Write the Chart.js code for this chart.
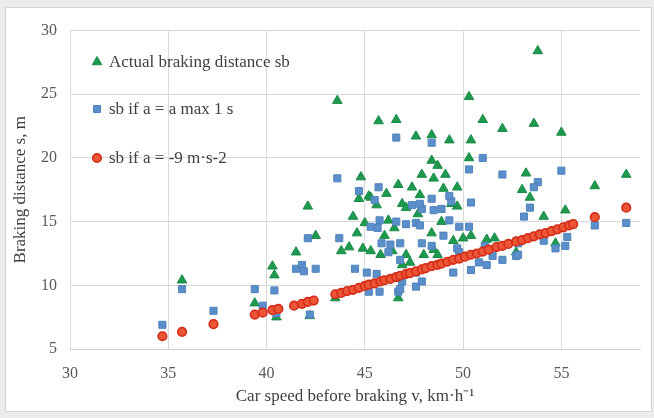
<!DOCTYPE html>
<html><head><meta charset="utf-8">
<script src="https://cdn.jsdelivr.net/npm/chart.js@4.4.1/dist/chart.umd.min.js"></script>
<style>
html,body{margin:0;padding:0;background:#ececec;width:654px;height:418px;overflow:hidden}
#frame{position:absolute;left:5px;top:7px;width:645px;height:403px;background:#fff;border:1px solid #d4d4d4;}
canvas{display:block}
</style></head><body>
<div id="frame"><canvas id="c" width="645" height="403"></canvas></div>
<script>
// ---- data ----
const xTickValues = [30, 35, 40, 45, 50, 55];
const yTickValues = [5, 10, 15, 20, 25, 30];
const seriesNames = ['Actual braking distance sb', 'sb if a = a max 1 s', 'sb if a = -9 m\u00b7s-2'];

const actualSpeed = [35.7,39.4,40.3,40.4,40.5,41.5,42.1,42.5,42.2,43.6,43.5,43.8,44.6,44.8,45.7,46.6,47.6,48.4,49.3,50.4,50.3,51.0,52.0,53.6,55.0,53.8,50.3,48.4,48.7,53.2,53.0,53.4,56.7,58.3,54.1,55.2,46.7,47.9,48.5,49.1,49.7,46.7,47.4,49.0,45.2,46.1,47.8,45.6,46.9,49.7,44.7,45.3,47.1,44.9,45.3,45.8,46.2,46.5,47.1,46.9,47.3,46.4,49.4,48.4,48.0,49.5,50.0,50.4,51.2,51.6,48.5,48.7,52.7,54.7,44.2,45.0,46.0,47.7,44.4,48.9];
const actualDist  = [10.4,8.6,11.5,10.8,7.5,12.6,16.2,13.9,7.6,24.5,9.0,12.7,14.1,18.5,22.9,23.0,21.7,21.8,21.4,21.4,24.8,23.0,22.3,22.7,22.0,28.4,20.0,19.8,19.4,18.8,17.5,16.9,17.8,18.7,15.4,15.9,9.0,18.7,18.4,18.7,17.7,17.9,17.7,17.6,17.0,17.2,17.1,16.3,16.4,16.2,16.8,16.9,16.1,12.9,12.7,12.4,15.1,14.5,12.4,11.6,11.8,12.7,16.4,14.1,12.4,13.5,13.7,13.9,13.6,13.7,12.8,12.4,12.6,13.3,13.0,14.9,13.9,15.6,15.4,15.0];

const amaxSpeed = [34.7,35.7,37.3,39.4,39.8,40.4,40.5,41.5,41.8,41.9,42.1,42.5,42.2,43.6,46.6,48.4,51.0,50.3,52.0,55.0,53.8,53.6,44.7,45.7,45.5,47.9,48.5,49.4,50.4,47.4,48.4,48.9,49.3,47.8,49.3,49.8,50.3,47.6,47.8,49.0,47.9,48.4,49.7,49.8,51.1,50.8,51.2,52.0,52.7,47.9,53.1,52.8,53.4,52.8,54.1,54.7,55.2,55.3,56.7,58.3,45.2,46.7,43.7,45.3,45.75,45.65,46.6,47.1,45.85,46.3,46.8,46.2,46.8,44.5,45.1,45.6,46.6,46.9,47.6,45.75,46.8,47.6,50.4,49.5,51.5];
const amaxDist  = [6.9,9.7,8.0,9.7,8.4,9.6,7.8,11.3,11.6,11.1,13.7,11.3,7.7,18.4,21.6,21.2,20.0,19.1,18.7,19.0,18.1,17.7,17.4,17.7,16.7,16.0,15.9,16.6,16.5,16.3,16.8,16.0,17.0,16.4,15.1,14.6,14.6,14.9,14.7,13.9,13.3,13.1,12.9,12.6,13.1,11.8,11.6,12.0,12.3,10.3,15.4,13.3,16.1,12.4,13.5,12.9,13.1,13.8,14.7,14.9,9.5,9.5,13.7,14.6,15.1,14.5,15.0,14.8,13.3,13.2,13.3,12.6,12.0,11.3,11.0,10.9,10.6,10.3,11.0,9.5,9.7,9.9,11.2,11.0,12.3];

const sb9Speed = [34.7,35.7,37.3,39.4,39.8,40.3,40.6,41.4,41.8,42.1,42.4,43.5,43.8,44.1,44.4,44.7,45.0,45.2,45.5,45.8,46.0,46.3,46.6,46.8,47.1,47.3,47.6,47.9,48.1,48.4,48.7,48.9,49.2,49.5,49.8,50.1,50.4,50.7,51.0,51.3,51.7,52.0,52.3,52.7,53.0,53.3,53.6,53.9,54.2,54.5,54.8,55.1,55.4,55.6,56.7,58.3];
const sb9Dist  = [6.0,6.35,6.95,7.7,7.85,8.05,8.15,8.4,8.55,8.7,8.8,9.3,9.4,9.55,9.65,9.8,9.95,10.05,10.15,10.3,10.4,10.5,10.65,10.75,10.9,10.95,11.1,11.25,11.35,11.5,11.6,11.7,11.85,12.0,12.1,12.25,12.4,12.5,12.65,12.8,13.0,13.1,13.25,13.45,13.55,13.7,13.85,14.0,14.1,14.25,14.4,14.55,14.7,14.8,15.35,16.1];

const xTitle = 'Car speed before braking v, km\u00b7h\u207b\u00b9';
const yTitle = 'Braking distance s, m';

// ---- chart ----
const pair = (xs, ys) => xs.map((x, i) => ({x: x, y: ys[i]}));
const FONT = 'Liberation Serif, "Times New Roman", serif';
const styles = [
  {pointStyle:'triangle', radius:5.5, bg:'#1e9a4f', border:'#188a45', bw:1},
  {pointStyle:'rect', radius:5, bg:'#5b8fca', border:'#4f82bd', bw:1},
  {pointStyle:'circle', radius:4.3, bg:'#ec5535', border:'#d42c18', bw:1.6}
];

const legendPlugin = {
  id: 'insideLegend',
  afterDatasetsDraw(chart) {
    const ctx = chart.ctx;
    const rows = [54, 101, 150];
    ctx.save();
    ctx.font = '17px ' + FONT;
    ctx.textBaseline = 'middle';
    ctx.textAlign = 'left';
    seriesNames.forEach((name, i) => {
      const s = styles[i];
      ctx.fillStyle = s.bg; ctx.strokeStyle = s.border; ctx.lineWidth = s.bw;
      Chart.helpers.drawPoint(ctx, {pointStyle: s.pointStyle, radius: s.radius, rotation: 0, borderWidth: s.bw}, 91, rows[i]);
      ctx.fillStyle = '#404040';
      ctx.fillText(name, 103, rows[i] + 1);
    });
    ctx.restore();
  }
};

const mk = (label, data, s, order) => ({
  label, data, order, showLine: false,
  pointStyle: s.pointStyle, pointRadius: s.radius, pointHoverRadius: s.radius,
  backgroundColor: s.bg, borderColor: s.border, pointBorderWidth: s.bw, borderWidth: s.bw
});

new Chart(document.getElementById('c'), {
  type: 'scatter',
  data: {
    datasets: [
      mk(seriesNames[0], pair(actualSpeed, actualDist), styles[0], 3),
      mk(seriesNames[1], pair(amaxSpeed, amaxDist), styles[1], 2),
      mk(seriesNames[2], pair(sb9Speed, sb9Dist), styles[2], 1)
    ]
  },
  options: {
    responsive: false, animation: false,
    layout: {padding: {left: 0, top: 14, right: 11, bottom: 0}},
    plugins: {legend: {display: false}, tooltip: {enabled: false}},
    scales: {
      x: {
        type: 'linear', min: 30, max: 59,
        afterBuildTicks: s => { s.ticks = xTickValues.map(v => ({value: v})); },
        afterFit: s => { s.height = 62; },
        grid: {color: '#d9d9d9', drawTicks: false},
        border: {color: '#d0d0d0'},
        ticks: {padding: 15, color: '#595959', font: {family: FONT, size: 16}},
        title: {display: true, text: xTitle, color: '#404040', font: {family: FONT, size: 17}, padding: {top: 4, bottom: 4}}
      },
      y: {
        type: 'linear', min: 5, max: 30,
        afterBuildTicks: s => { s.ticks = yTickValues.map(v => ({value: v})); },
        afterFit: s => { s.width = 64; },
        grid: {color: '#d9d9d9', drawTicks: false},
        border: {display: false},
        ticks: {padding: 13, color: '#595959', font: {family: FONT, size: 16}},
        title: {display: true, text: yTitle, color: '#404040', font: {family: FONT, size: 17}, padding: {top: 4, bottom: 4}}
      }
    }
  },
  plugins: [legendPlugin]
});
</script>
</body></html>
